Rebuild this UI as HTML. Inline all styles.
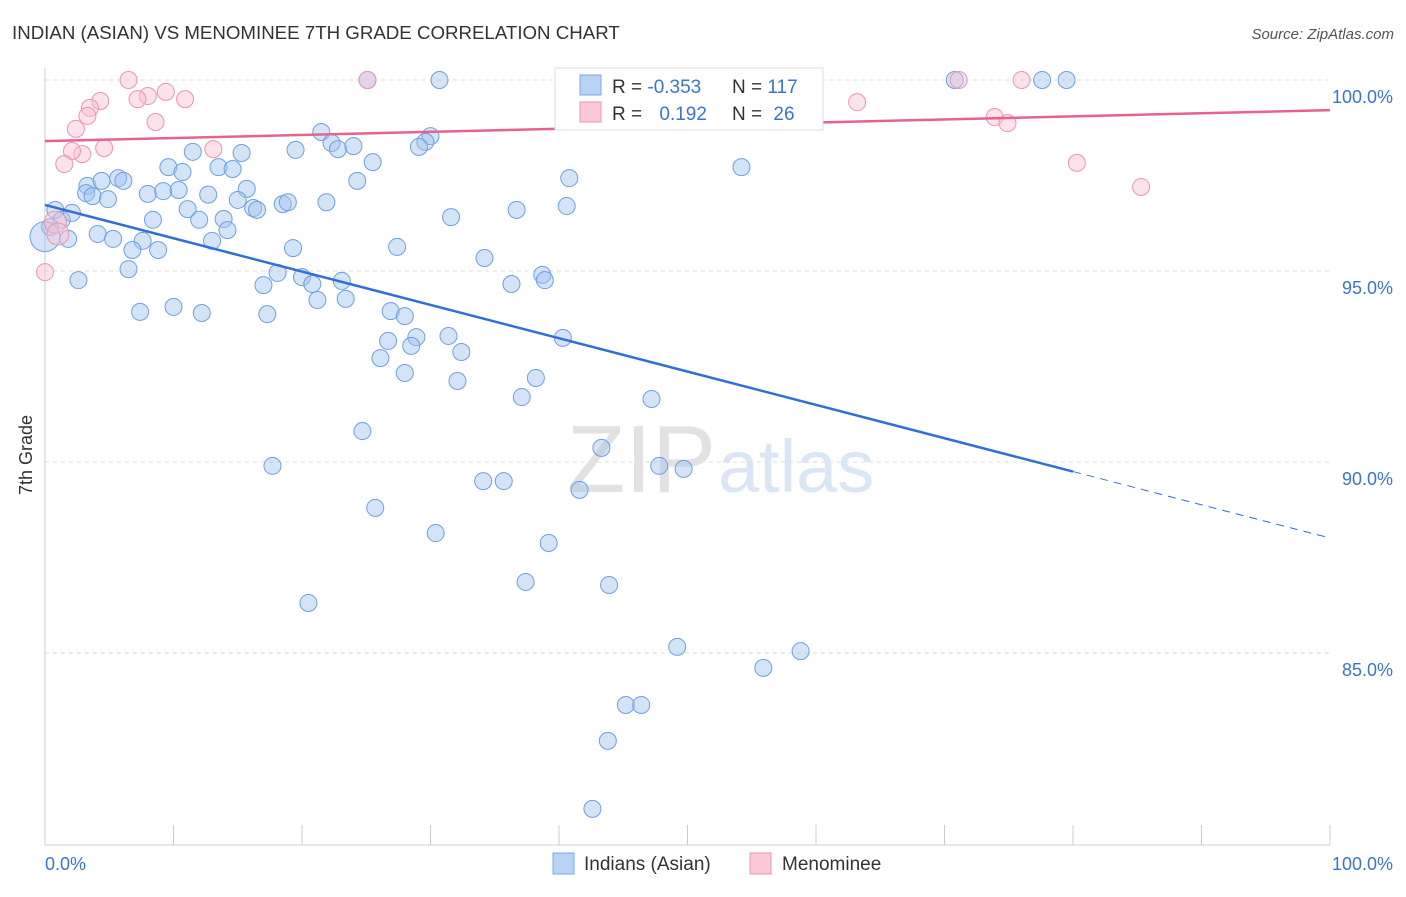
<!DOCTYPE html>
<html><head><meta charset="utf-8"><style>
body{margin:0;background:#fff;font-family:"Liberation Sans",sans-serif}
svg text{font-family:"Liberation Sans",sans-serif}
</style></head><body>
<svg id="c" width="1406" height="892" xmlns="http://www.w3.org/2000/svg">
<text x="12" y="39" font-size="18.7" fill="#333">INDIAN (ASIAN) VS MENOMINEE 7TH GRADE CORRELATION CHART</text>
<text x="1394" y="39" font-size="15" fill="#555" font-style="italic" text-anchor="end">Source: ZipAtlas.com</text>
<text x="32" y="455" font-size="18" fill="#333" transform="rotate(-90 32 455)" text-anchor="middle">7th Grade</text>
<g id="grid"></g>
<text x="716" y="492" font-size="96" fill="#e2e2e2" text-anchor="end" font-family="Liberation Serif">ZIP</text>
<text x="718" y="492" font-size="74" fill="#dbe6f5">atlas</text>
<g id="pts"></g>
<g id="lines"></g>
<g>
<rect x="555" y="68" width="268" height="62" fill="#fff" stroke="#ddd"/>
<rect x="580" y="75" width="21" height="20" fill="#b9d3f5" stroke="#7aa7e6"/>
<rect x="580" y="102" width="21" height="20" fill="#fbc8d6" stroke="#ee93ae"/>
<text x="612" y="93" font-size="19" fill="#333">R = <tspan fill="#3a74d0">-0.353</tspan></text>
<text x="732" y="93" font-size="19" fill="#333">N = <tspan fill="#3a74d0">117</tspan></text>
<text x="612" y="120" font-size="19" fill="#333">R = <tspan fill="#3a74d0" dx="12">0.192</tspan></text>
<text x="732" y="120" font-size="19" fill="#333">N = <tspan fill="#3a74d0" dx="6">26</tspan></text>
</g>
<g>
<rect x="553" y="853" width="21" height="21" fill="#b9d3f5" stroke="#7aa7e6"/>
<text x="584" y="870" font-size="19" fill="#333">Indians (Asian)</text>
<rect x="750" y="853" width="21" height="21" fill="#fbc8d6" stroke="#ee93ae"/>
<text x="782" y="870" font-size="19" fill="#333">Menominee</text>
</g>
</svg>
<script>
const yTicks=[100,95,90,85];
const yTickLabels=["100.0%","95.0%","90.0%","85.0%"];
const xTickLabels=["0.0%","100.0%"];
const blueX=[25.1,30.7,46.0,46.9,70.8,77.6,79.5,21.5,22.3,22.8,24.0,30.0,29.6,29.1,19.5,15.3,11.5,9.6,10.7,13.5,14.6,25.5,24.3,54.2,40.8,3.3,4.4,5.7,6.1,3.2,3.7,4.9,8.0,9.2,10.4,12.7,15.7,15.0,16.2,16.5,18.5,18.9,21.9,11.1,8.4,12.0,13.9,14.2,13.0,40.6,36.7,31.6,0.8,1.3,2.1,0.4,1.8,4.1,5.3,7.6,6.8,8.8,6.5,2.6,19.3,27.4,34.2,18.1,17.0,20.0,20.8,23.1,21.2,23.4,36.3,38.7,38.9,7.4,10.0,12.2,17.3,26.9,28.0,31.4,26.7,28.9,28.5,26.1,32.4,40.3,28.0,32.1,38.2,37.1,47.2,24.7,17.7,43.3,47.8,49.7,34.1,35.7,41.6,25.7,30.4,39.2,37.4,43.9,20.5,49.2,58.8,55.9,45.2,46.4,43.8,42.6,0.0];
const blueY=[100,100,100,100,100,100,100,98.64,98.35,98.19,98.27,98.53,98.38,98.25,98.17,98.09,98.12,97.72,97.59,97.72,97.67,97.85,97.36,97.72,97.43,97.23,97.36,97.43,97.36,97.04,96.96,96.88,97.02,97.09,97.12,97.0,97.15,96.86,96.65,96.6,96.75,96.8,96.8,96.62,96.34,96.34,96.36,96.07,95.79,96.7,96.6,96.41,96.6,96.34,96.52,96.15,95.84,95.97,95.84,95.79,95.55,95.55,95.05,94.76,95.6,95.63,95.34,94.95,94.63,94.84,94.66,94.74,94.24,94.27,94.66,94.9,94.76,93.93,94.06,93.9,93.87,93.95,93.82,93.3,93.17,93.27,93.04,92.72,92.88,93.25,92.33,92.12,92.2,91.7,91.65,90.81,89.9,90.37,89.9,89.82,89.5,89.5,89.27,88.8,88.14,87.88,86.86,86.78,86.31,85.16,85.05,84.61,83.64,83.64,82.7,80.92,95.9];
const pinkX=[6.5,9.4,8.0,7.2,10.9,4.3,3.5,3.3,8.6,2.4,4.6,2.9,2.1,13.1,1.5,25.1,71.1,76.0,63.2,73.9,74.9,80.3,85.3,0.0,0.8,1.0];
const pinkY=[100,99.69,99.58,99.5,99.5,99.45,99.27,99.06,98.9,98.72,98.22,98.06,98.14,98.19,97.8,100,100,100,99.42,99.03,98.87,97.83,97.2,94.97,96.28,95.97];
const blueLine=[[0,96.73],[80,89.75],[100,88.01]];
const pinkLine=[[0,98.40],[100,99.21]];
const X=v=>45+v*12.85, Y=v=>80+(100-v)*38.2;
const NS="http://www.w3.org/2000/svg";
function mk(t,a,p){const e=document.createElementNS(NS,t);for(const k in a)e.setAttribute(k,a[k]);p.appendChild(e);return e;}
const g=document.getElementById('grid');
yTicks.forEach((t,i)=>{
 const l=mk('line',{x1:45,x2:1330,y1:Y(t),y2:Y(t),stroke:'#ddd','stroke-dasharray':'4,4'},g);
 
 
 const tx=mk('text',{x:1393,y:Y(t)+23,'font-size':18,fill:'#3a74d0','text-anchor':'end'},g);
 tx.textContent=yTickLabels[i];
 
 
});
const ax=mk('line',{x1:45,x2:1330,y1:845,y2:845,stroke:'#ccc'},g);


const ay=mk('line',{x1:45,x2:45,y1:68,y2:845,stroke:'#ccc'},g);


for(let i=0;i<=10;i++){
 const t=mk('line',{x1:X(i*10),x2:X(i*10),y1:825,y2:845,stroke:'#ccc'},g);
 
 
}
[[0,'start',45],[1,'end',1393]].forEach(([i,a,x])=>{
 const t=mk('text',{x:x,y:870,'font-size':18,fill:'#3a74d0','text-anchor':a},g);
 t.textContent=xTickLabels[i];
 
 
});
const P=document.getElementById('pts');
blueX.forEach((x,i)=>{
 const big=i===blueX.length-1;
 const c=mk('circle',{cx:X(x),cy:Y(blueY[i]),r:big?15:8.5,fill:'rgba(160,195,240,0.45)',stroke:'#6f9fe0','stroke-width':1},P);
 
 
});
pinkX.forEach((x,i)=>{
 const c=mk('circle',{cx:X(x),cy:Y(pinkY[i]),r:i>=24?11:8.5,fill:'rgba(250,190,210,0.45)',stroke:'#ee93ae','stroke-width':1},P);
 
 
});
const L=document.getElementById('lines');
const b1=mk('line',{x1:X(blueLine[0][0]),y1:Y(blueLine[0][1]),x2:X(blueLine[1][0]),y2:Y(blueLine[1][1]),stroke:'#2f6fd6','stroke-width':2.5},L);


const b2=mk('line',{x1:X(blueLine[1][0]),y1:Y(blueLine[1][1]),x2:X(blueLine[2][0]),y2:Y(blueLine[2][1]),stroke:'#2f6fd6','stroke-width':1,'stroke-dasharray':'8,6'},L);


const p1=mk('line',{x1:X(pinkLine[0][0]),y1:Y(pinkLine[0][1]),x2:X(pinkLine[1][0]),y2:Y(pinkLine[1][1]),stroke:'#e8638c','stroke-width':2.5},L);


</script>
</body></html>
